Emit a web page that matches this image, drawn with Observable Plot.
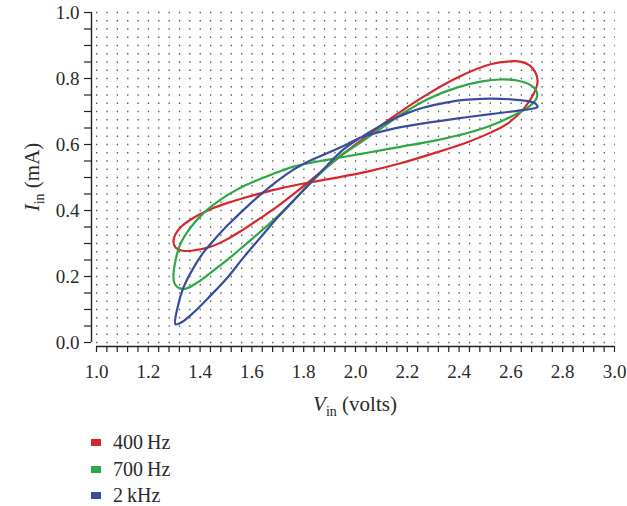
<!DOCTYPE html>
<html><head><meta charset="utf-8">
<script src="https://cdn.jsdelivr.net/npm/d3@7"></script>
<script src="https://cdn.jsdelivr.net/npm/@observablehq/plot@0.6"></script>
<style>
body{margin:0;background:#fff;font-family:"Liberation Serif",serif;}
#wrap{position:relative;width:627px;height:506px;overflow:hidden;}
.leg{position:absolute;left:91px;font-size:20px;color:#2a2a2a;display:flex;align-items:center;height:18px;line-height:18px;white-space:nowrap;}
.leg .sw{width:10px;height:7px;display:inline-block;margin-right:12px;}
</style></head><body><div id="wrap"></div>
<script>
// Series
const series = ["400 Hz", "700 Hz", "2 kHz"];
const colors = ["#d6272c", "#2ea646", "#394c9d"];

// 400 Hz loop (V in volts, I in mA), traced once around the figure-eight
const v400 = [1.297,1.305,1.326,1.375,1.440,1.506,1.568,1.633,1.710,1.815,1.915,2.046,2.174,2.301,2.432,2.521,2.590,2.649,2.687,2.703,2.695,2.672,2.637,2.598,2.521,2.394,2.263,2.135,2.040,1.954,1.892,1.815,1.761,1.700,1.633,1.568,1.500,1.440,1.375,1.332,1.305];
const i400 = [0.306,0.328,0.350,0.378,0.404,0.423,0.438,0.452,0.467,0.484,0.498,0.518,0.543,0.573,0.607,0.636,0.665,0.708,0.752,0.790,0.818,0.840,0.851,0.852,0.843,0.803,0.745,0.678,0.623,0.572,0.533,0.484,0.450,0.413,0.377,0.343,0.311,0.290,0.279,0.278,0.288];

// 700 Hz loop
const v700 = [1.297,1.303,1.322,1.360,1.413,1.479,1.544,1.606,1.680,1.761,1.850,1.930,2.046,2.174,2.301,2.432,2.521,2.610,2.670,2.700,2.697,2.676,2.625,2.560,2.494,2.394,2.280,2.174,2.097,2.019,1.930,1.850,1.761,1.710,1.633,1.568,1.506,1.440,1.390,1.344,1.318,1.302];
const i700 = [0.197,0.240,0.295,0.345,0.392,0.433,0.464,0.487,0.510,0.533,0.548,0.559,0.575,0.593,0.611,0.635,0.657,0.688,0.715,0.742,0.765,0.780,0.794,0.797,0.792,0.773,0.738,0.690,0.648,0.606,0.559,0.502,0.430,0.390,0.336,0.292,0.251,0.211,0.182,0.163,0.165,0.178];

// 2 kHz loop
const v2k = [1.305,1.313,1.336,1.375,1.413,1.452,1.506,1.568,1.633,1.699,1.761,1.830,1.892,1.960,2.020,2.135,2.263,2.394,2.521,2.625,2.687,2.703,2.695,2.660,2.600,2.521,2.450,2.394,2.330,2.263,2.200,2.135,2.085,2.020,1.954,1.892,1.826,1.761,1.699,1.633,1.568,1.506,1.440,1.375,1.330];
const i2k = [0.055,0.106,0.167,0.227,0.273,0.309,0.355,0.402,0.448,0.490,0.524,0.553,0.574,0.598,0.621,0.646,0.664,0.679,0.692,0.702,0.709,0.714,0.724,0.732,0.737,0.739,0.737,0.733,0.724,0.712,0.695,0.673,0.652,0.621,0.585,0.538,0.484,0.430,0.379,0.318,0.258,0.197,0.142,0.091,0.062];

// Ticks
const xTicks = d3.range(0, 51).map(i => +(1 + i * 0.04).toFixed(2));
const yTicks = d3.range(0, 21).map(i => +(i * 0.05).toFixed(2));
const gridRows = d3.range(0, 41).map(i => +(i * 0.025).toFixed(3));

const isMult = (d, step) => Math.abs(d / step - Math.round(d / step)) < 1e-6;

const data = [];
[[v400, i400], [v700, i700], [v2k, i2k]].forEach(([vs, is], k) => {
  vs.forEach((v, j) => data.push({f: series[k], V: v, I: is[j]}));
});

const font = '"Liberation Serif", serif';
const chart = Plot.plot({
  width: 627, height: 420,
  marginLeft: 96, marginRight: 13, marginTop: 12, marginBottom: 78,
  x: {domain: [1, 3]},
  y: {domain: [0, 1]},
  color: {domain: series, range: colors},
  style: {fontFamily: font, fontSize: "19px", color: "#2a2a2a", background: "#fff"},
  marks: [
    Plot.ruleY(gridRows, {x1: 1, x2: 3.003, stroke: "#3a3a3a", strokeOpacity: 0.85, strokeWidth: 1.3, strokeDasharray: "1.3 9.06"}),
    Plot.ruleX([1], {y1: 0, y2: 1, dx: -5, stroke: "#222", strokeWidth: 1.4}),
    Plot.ruleY([0], {x1: 1, x2: 3, dy: 4, stroke: "#222", strokeWidth: 1.4}),
    Plot.axisX(xTicks, {tickSize: 6, dy: 4, tickPadding: 12, fontSize: 19, stroke: "#222", strokeWidth: 1.2,
      tickFormat: d => isMult(d - 1, 0.2) ? d.toFixed(1) : "", label: null}),
    Plot.axisY(yTicks, {tickSize: 7, dx: -5, tickPadding: 5, fontSize: 19, stroke: "#222", strokeWidth: 1.2,
      tickFormat: d => isMult(d, 0.2) ? d.toFixed(1) : "", label: null}),
    Plot.line(data, {x: "V", y: "I", z: "f", stroke: "f", curve: "catmull-rom-closed", strokeWidth: 2.2})
  ]
});

const svg = d3.select(chart);
// x-axis title
const xt = svg.append("text").attr("transform", "translate(355,411)").attr("text-anchor", "middle")
  .attr("font-family", font).attr("font-size", 21).attr("fill", "#2a2a2a");
xt.append("tspan").attr("font-style", "italic").text("V");
xt.append("tspan").attr("font-size", 14).attr("dy", 5).text("in");
xt.append("tspan").attr("dy", -5).text("\u00a0(volts)");
// y-axis title
const yt = svg.append("text").attr("transform", "translate(39,177) rotate(-90)").attr("text-anchor", "middle")
  .attr("font-family", font).attr("font-size", 21).attr("fill", "#2a2a2a");
yt.append("tspan").attr("font-style", "italic").text("I");
yt.append("tspan").attr("font-size", 14).attr("dy", 5).text("in");
yt.append("tspan").attr("dy", -5).text("\u00a0(mA)");

const wrap = document.getElementById("wrap");
wrap.appendChild(chart);
const rowCenters = [442, 469, 495];
series.forEach((s, k) => {
  const d = document.createElement("div");
  d.className = "leg";
  d.style.top = (rowCenters[k] - 9) + "px";
  const sw = document.createElement("span");
  sw.className = "sw";
  sw.style.background = colors[k];
  d.appendChild(sw);
  d.appendChild(document.createTextNode(s.replace(" ", "\u2009")));
  wrap.appendChild(d);
});
chart.style.position = "absolute";
chart.style.left = "0";
chart.style.top = "0";
</script>
</body></html>
